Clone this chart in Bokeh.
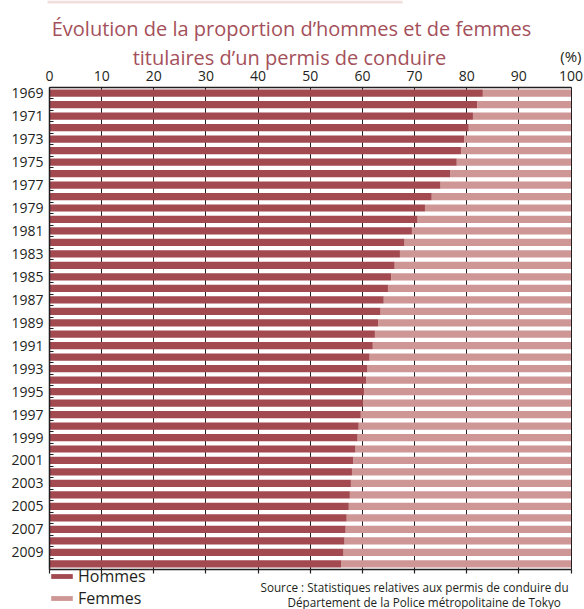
from bokeh.plotting import figure
from bokeh.models import (Range1d, FixedTicker, Label, Legend, LegendItem,
                          LinearAxis, BoxAnnotation)
from bokeh.embed import file_html
from bokeh.resources import INLINE

# ---------------- data ----------------
years = list(range(1969, 2011))
hommes = [83.1, 82.0, 81.2, 80.4, 79.5, 78.9, 78.1, 76.8, 75.0, 73.3,
          72.0, 70.6, 69.5, 68.1, 67.2, 66.2, 65.5, 64.9, 64.1, 63.5,
          63.0, 62.4, 62.0, 61.4, 61.0, 60.7, 60.3, 60.1, 59.7, 59.3,
          59.1, 58.7, 58.3, 58.0, 57.8, 57.6, 57.4, 57.0, 56.8, 56.6,
          56.4, 56.0]
femmes = [16.9, 18.0, 18.8, 19.6, 20.5, 21.1, 21.9, 23.2, 25.0, 26.7,
          28.0, 29.4, 30.5, 31.9, 32.8, 33.8, 34.5, 35.1, 35.9, 36.5,
          37.0, 37.6, 38.0, 38.6, 39.0, 39.3, 39.7, 39.9, 40.3, 40.7,
          40.9, 41.3, 41.7, 42.0, 42.2, 42.4, 42.6, 43.0, 43.2, 43.4,
          43.6, 44.0]
x_ticks = [0, 10, 20, 30, 40, 50, 60, 70, 80, 90, 100]
year_labels = [1969, 1971, 1973, 1975, 1977, 1979, 1981, 1983, 1985, 1987,
               1989, 1991, 1993, 1995, 1997, 1999, 2001, 2003, 2005, 2007, 2009]

title_1 = "Évolution de la proportion d\u2019hommes et de femmes"
title_2 = "titulaires d\u2019un permis de conduire"
unit = "(%)"
source_1 = "Source : Statistiques relatives aux permis de conduire du"
source_2 = "Département de la Police métropolitaine de Tokyo"
series_names = ["Hommes", "Femmes"]

# ---------------- style / layout ----------------
DARK = "#a24a50"
LIGHT = "#cf9696"
INK = "#231f20"
TITLE_C = "#a4505a"
FONT = "Open Sans"

W, H = 584, 609
FX0, FX1 = 49.0, 570.5      # plot area, pixels
FY0, FY1 = 87.0, 569.0
ppx = (FX1 - FX0) / (x_ticks[-1] - x_ticks[0])
ppy = (FY1 - FY0) / len(years)
y_top = years[0] - 0.5
y_bot = years[-1] + 0.5

x_range = Range1d(x_ticks[0] - FX0 / ppx, x_ticks[-1] + (W - FX1) / ppx)
y_range = Range1d(y_bot + (H - FY1) / ppy, y_top - FY0 / ppy)

p = figure(width=W, height=H, x_range=x_range, y_range=y_range,
           x_axis_location=None, y_axis_location=None,
           output_backend="svg", toolbar_location=None,
           min_border=0, min_border_left=0, min_border_right=0,
           min_border_top=0, min_border_bottom=0,
           outline_line_color=None)
p.grid.visible = False

femmes_left = [100 - f for f in femmes]
r_h = p.hbar(y=years, left=0, right=hommes, height=0.63,
             fill_color=DARK, line_color=None)
r_f = p.hbar(y=years, left=femmes_left, right=100, height=0.63,
             fill_color=LIGHT, line_color=None)

# top axis (labels + long inward ticks act as vertical grid lines)
ta = LinearAxis(ticker=FixedTicker(ticks=x_ticks), fixed_location=y_top,
                level="underlay", bounds=(x_ticks[0], x_ticks[-1]))
ta.major_tick_in = int(round(FY1 - FY0))
ta.major_tick_out = 0
ta.major_tick_line_color = INK
ta.major_tick_line_width = 1
ta.minor_tick_in = 0
ta.minor_tick_out = 0
ta.axis_line_color = INK
ta.axis_line_width = 1.5
ta.major_label_text_font = FONT
ta.major_label_text_font_size = "14px"
ta.major_label_text_color = INK
ta.major_label_standoff = 7
p.add_layout(ta, "above")

# bottom axis
ba = LinearAxis(ticker=FixedTicker(ticks=x_ticks), fixed_location=y_bot,
                bounds=(x_ticks[0], x_ticks[-1]))
ba.major_tick_in = 0
ba.major_tick_out = 4
ba.major_tick_line_color = INK
ba.major_tick_line_width = 1.2
ba.minor_tick_in = 0
ba.minor_tick_out = 0
ba.axis_line_color = INK
ba.axis_line_width = 1.5
ba.major_label_overrides = {t: "" for t in x_ticks}
p.add_layout(ba, "below")

# left axis
la = LinearAxis(ticker=FixedTicker(ticks=year_labels,
                                   minor_ticks=[y - 0.5 for y in years] + [y_bot]),
                fixed_location=x_ticks[0], bounds=(y_top, y_bot))
la.major_tick_in = 0
la.major_tick_out = 0
la.minor_tick_in = 4
la.minor_tick_out = 0
la.minor_tick_line_color = INK
la.minor_tick_line_width = 1.2
la.axis_line_color = INK
la.axis_line_width = 1.5
la.major_label_text_font = FONT
la.major_label_text_font_size = "14px"
la.major_label_text_color = INK
la.major_label_standoff = 6
p.add_layout(la, "left")

def lab(x, y, text, size, color, align, baseline="alphabetic"):
    # screen units: origin at bottom-left of the (full-canvas) frame
    p.add_layout(Label(x=x, y=H - y, x_units="screen", y_units="screen", text=text,
                       text_font=FONT, text_font_size=size, text_color=color,
                       text_align=align, text_baseline=baseline))

p.add_layout(BoxAnnotation(left=47, right=402, top=H, bottom=H - 3,
                           left_units="screen", right_units="screen",
                           top_units="screen", bottom_units="screen",
                           fill_color="#f3dede", fill_alpha=1, line_color=None))

lab(291, 28, title_1, "20px", TITLE_C, "center")
lab(289, 57, title_2, "20px", TITLE_C, "center")
lab(581, 55, unit, "15px", INK, "right", "middle")
lab(260, 586, source_1, "11.7px", INK, "left")
lab(287, 601, source_2, "11.7px", INK, "left")

legend = Legend(items=[LegendItem(label=series_names[0], renderers=[r_h]),
                       LegendItem(label=series_names[1], renderers=[r_f])],
                location=(48, 0), orientation="vertical",
                glyph_width=27, glyph_height=6, label_standoff=3,
                label_text_font=FONT, label_text_font_size="16px",
                label_text_color=INK, label_height=12, spacing=0,
                padding=0, margin=0, border_line_color=None,
                background_fill_alpha=0)
p.add_layout(legend, "center")

open("out.html", "w").write(file_html(p, INLINE))
